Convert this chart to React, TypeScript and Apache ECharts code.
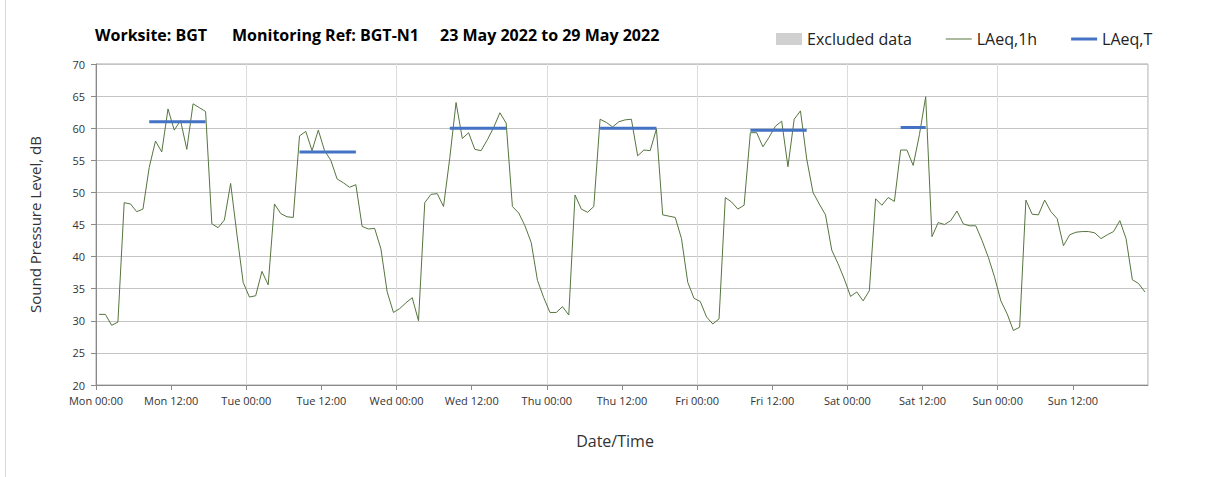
import React, { useEffect, useRef } from "react";
import * as echarts from "echarts";

const FONT = "'Open Sans', 'Noto Sans', sans-serif";

const dayNames = ["Mon", "Tue", "Wed", "Thu", "Fri", "Sat", "Sun"];
const tickHours = ["00:00", "12:00"];

// LAeq,1h hourly values (dB), one array per day, hours 00..23
const monValues = [31.0, 31.0, 29.3, 29.8, 48.4, 48.2, 47.0, 47.4, 53.9, 58.0, 56.3, 63.0, 59.7, 61.2, 56.7, 63.8, 63.2, 62.6, 45.1, 44.5, 45.7, 51.4, 43.5, 36.0];
const tueValues = [33.7, 33.9, 37.7, 35.6, 48.2, 46.7, 46.2, 46.1, 58.8, 59.5, 56.5, 59.7, 56.5, 55.0, 52.1, 51.5, 50.8, 51.2, 44.7, 44.3, 44.4, 41.2, 34.5, 31.3];
const wedValues = [31.9, 32.8, 33.6, 30.0, 48.4, 49.7, 49.8, 47.8, 55.4, 64.0, 58.4, 59.3, 56.7, 56.5, 58.2, 60.1, 62.4, 60.8, 47.8, 46.8, 44.8, 42.2, 36.3, 33.6];
const thuValues = [31.3, 31.3, 32.2, 30.9, 49.6, 47.4, 46.9, 47.8, 61.4, 60.9, 60.2, 61.0, 61.3, 61.4, 55.7, 56.6, 56.5, 59.9, 46.5, 46.3, 46.1, 42.8, 36.0, 33.5];
const friValues = [33.0, 30.6, 29.5, 30.3, 49.2, 48.5, 47.4, 48.0, 59.3, 59.3, 57.1, 58.6, 60.3, 61.1, 54.0, 61.4, 62.7, 55.2, 50.0, 48.2, 46.5, 41.0, 38.9, 36.5];
const satValues = [33.8, 34.5, 33.1, 34.7, 49.0, 48.0, 49.2, 48.6, 56.6, 56.6, 54.2, 59.0, 64.9, 43.1, 45.3, 45.0, 45.6, 47.1, 45.1, 44.8, 44.8, 42.5, 39.9, 36.8];
const sunValues = [33.1, 31.1, 28.5, 29.0, 48.8, 46.6, 46.5, 48.8, 47.0, 45.9, 41.7, 43.4, 43.8, 43.9, 43.9, 43.7, 42.8, 43.4, 43.9, 45.6, 42.8, 36.4, 35.8, 34.5];

// LAeq,T assessment periods (first and last hour index from Mon 00:00) and levels
const periodFirstHour = [8, 32, 56, 80, 104, 128];
const periodLastHour = [17, 41, 65, 89, 113, 132];
const laeqTValues = [61.0, 56.3, 60.0, 60.0, 59.7, 60.1];

const yTicks = { min: 20, max: 70, step: 5 };

export default function App() {
  const ref = useRef<HTMLDivElement>(null);

  useEffect(() => {
    document.body.style.margin = "0";
    const chart = echarts.init(ref.current!, null, { renderer: "svg" });

    const hourly = [
      ...monValues,
      ...tueValues,
      ...wedValues,
      ...thuValues,
      ...friValues,
      ...satValues,
      ...sunValues,
    ];
    const lineData = hourly.map((v, i) => [i + 0.5, v]);
    const totalHours = hourly.length;

    const tData: any[] = [];
    laeqTValues.forEach((v, i) => {
      tData.push([periodFirstHour[i] + 0.5, v]);
      tData.push([periodLastHour[i] + 0.5, v]);
      tData.push([periodLastHour[i] + 1, "-"]);
    });

    const labelFor = (val: number) => {
      if (val >= totalHours) return "";
      const d = Math.floor(val / 24);
      const h = Math.round((val % 24) / 12);
      return `${dayNames[d]} ${tickHours[h]}`;
    };

    const titleStyle = { fontFamily: FONT, fontSize: 16, fontWeight: "bold", fill: "#000" };

    const option: any = {
      animation: false,
      backgroundColor: "#ffffff",
      textStyle: { fontFamily: FONT },
      grid: {
        left: 96,
        right: 60,
        top: 64,
        bottom: 92,
        show: true,
        borderColor: "#a9a9a9",
        borderWidth: 1,
        containLabel: false,
      },
      legend: {
        left: 776,
        top: 31,
        padding: 0,
        itemWidth: 26,
        itemHeight: 12,
        itemGap: 34,
        textStyle: { fontFamily: FONT, fontSize: 16, color: "#222" },
        data: [
          { name: "Excluded data", icon: "rect" },
          { name: "LAeq,1h", icon: "path://M0,0h26v1h-26z" },
          { name: "LAeq,T", icon: "path://M0,0h26v3h-26z" },
        ],
      },
      xAxis: [
        {
          type: "value",
          min: 0,
          max: totalHours,
          interval: 12,
          axisLine: { show: true, lineStyle: { color: "#8a8a8a", width: 1 } },
          axisTick: { show: true, length: 5, lineStyle: { color: "#8a8a8a" } },
          axisLabel: {
            formatter: labelFor,
            fontFamily: FONT,
            fontSize: 11,
            color: "#333",
            margin: 10,
            showMaxLabel: false,
          },
          splitLine: { show: false },
        },
        {
          type: "value",
          min: 0,
          max: totalHours,
          interval: 24,
          position: "bottom",
          axisLine: { show: false },
          axisTick: { show: false },
          axisLabel: { show: false },
          splitLine: { show: true, lineStyle: { color: "#dcdcdc", width: 1 } },
        },
      ],
      yAxis: {
        type: "value",
        min: yTicks.min,
        max: yTicks.max,
        interval: yTicks.step,
        name: "Sound Pressure Level, dB",
        nameLocation: "middle",
        nameGap: 54,
        nameTextStyle: { fontFamily: FONT, fontSize: 15, color: "#333" },
        axisLine: { show: true, lineStyle: { color: "#8a8a8a", width: 1 } },
        axisTick: { show: true, length: 5, lineStyle: { color: "#8a8a8a" } },
        axisLabel: { fontFamily: FONT, fontSize: 11, color: "#333", margin: 11 },
        splitLine: { show: true, lineStyle: { color: "#c4c4c4", width: 1 } },
      },
      graphic: [
        {
          type: "line",
          shape: { x1: 5.5, y1: 0, x2: 5.5, y2: 477 },
          style: { stroke: "#d9d9d9", lineWidth: 1 },
          silent: true,
        },
        { type: "text", left: 95, top: 27, style: { text: "Worksite: BGT", ...titleStyle } },
        { type: "text", left: 232, top: 27, style: { text: "Monitoring Ref: BGT-N1", ...titleStyle } },
        { type: "text", left: 440, top: 27, style: { text: "23 May 2022 to 29 May 2022", ...titleStyle } },
        {
          type: "text",
          x: 615,
          y: 441,
          style: {
            text: "Date/Time",
            fontFamily: FONT,
            fontSize: 16,
            fill: "#333",
            align: "center",
            verticalAlign: "middle",
          },
        },
      ],
      series: [
        {
          name: "Excluded data",
          type: "bar",
          data: [],
          itemStyle: { color: "#d0d0d0" },
        },
        {
          name: "LAeq,1h",
          type: "line",
          data: lineData,
          showSymbol: false,
          symbol: "none",
          lineStyle: { color: "#56753f", width: 1 },
          itemStyle: { color: "#56753f" },
          z: 3,
        },
        {
          name: "LAeq,T",
          type: "line",
          data: tData,
          showSymbol: false,
          symbol: "none",
          connectNulls: false,
          lineStyle: { color: "#4472c4", width: 3 },
          itemStyle: { color: "#4472c4" },
          z: 4,
        },
      ],
    };

    chart.setOption(option);
    return () => chart.dispose();
  }, []);

  return <div ref={ref} style={{ width: 1208, height: 477 }} />;
}
